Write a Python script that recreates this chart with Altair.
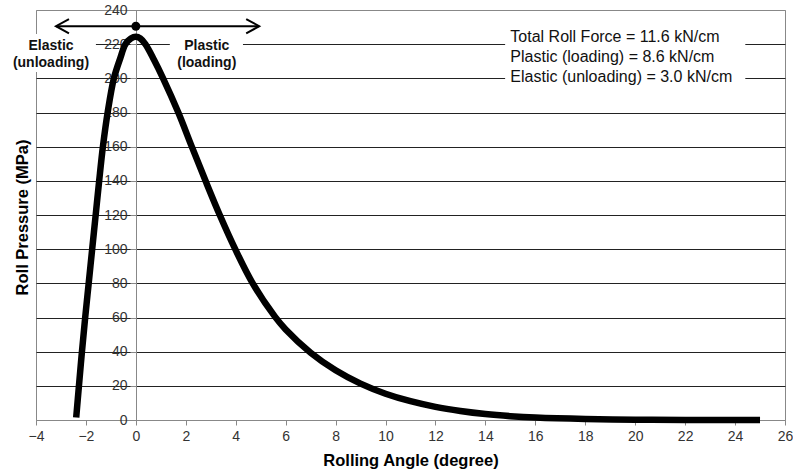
import altair as alt
import pandas as pd

# Roll pressure distribution along the contact arc
angle = [-2.39, -2.28, -2.16, -2.03, -1.89, -1.75, -1.61, -1.47, -1.32, -1.13,
         -0.88, -0.62, -0.42, -0.2, 0.0, 0.18, 0.38, 0.72, 1.09, 1.70,
         2.24, 2.79, 3.36, 3.98, 4.68, 5.57, 6.0, 7.0, 8.0, 9.0,
         10.0, 11.0, 12.0, 13.0, 14.0, 15.0, 16.0, 18.0, 20.0, 22.0, 25.0]
pressure = [1.5, 20, 40, 60, 80, 100, 120, 140, 160, 180,
            200, 212, 220, 223.3, 224.3, 223.3, 220, 211, 200, 180,
            160, 140, 120, 100, 80, 60.5, 53.0, 39.4, 29.1, 21.3,
            15.4, 11.0, 7.7, 5.3, 3.5, 2.25, 1.4, 0.55, 0.2, 0.07, 0.0]

x_ticks = list(range(-4, 27, 2))
y_ticks = list(range(0, 241, 20))

# Double arrow marking the neutral point, with its dot
arrow_left, arrow_right, arrow_level = -3.2, 4.94, 230.5
neutral_angle = 0.0

# Region labels above the curve
region_lines = ["Elastic", "(unloading)", "Plastic", "(loading)"]
region_x = [-3.4, -3.4, 2.84, 2.84]
region_y = [219.1, 208.8, 219.1, 208.8]

# Force summary
force_lines = ["Total Roll Force = 11.6 kN/cm",
               "Plastic (loading) = 8.6 kN/cm",
               "Elastic (unloading) = 3.0 kN/cm"]
force_x = [15.0, 15.0, 15.0]
force_y = [224.4, 212.7, 201.0]

# White backing boxes behind the annotations
box_x = [-5.13, 1.36, 14.79]
box_x2 = [-1.60, 4.29, 24.41]
box_y = [226.0, 226.0, 228.3]
box_y2 = [203.7, 203.7, 194.3]

FONT = "Liberation Sans"

curve = pd.DataFrame({"angle": angle, "pressure": pressure})
regions = pd.DataFrame({"angle": region_x, "pressure": region_y, "label": region_lines})
forces = pd.DataFrame({"angle": force_x, "pressure": force_y, "label": force_lines})
boxes = pd.DataFrame({"angle": box_x, "angle2": box_x2, "pressure": box_y, "pressure2": box_y2})
arrow = pd.DataFrame({"angle": [arrow_left], "angle2": [arrow_right], "pressure": [arrow_level]})
heads = pd.DataFrame({"angle": [arrow_left, arrow_right], "pressure": [arrow_level, arrow_level],
                      "side": ["left", "right"]})
dot = pd.DataFrame({"angle": [neutral_angle], "pressure": [arrow_level]})

x_scale = alt.Scale(domain=[-4, 26], nice=False, zero=False)
y_scale = alt.Scale(domain=[0, 240], nice=False, zero=False)

x_axis = alt.Axis(
    values=x_ticks, title="Rolling Angle (degree)", grid=False,
    domainColor="#888888", tickColor="#888888", tickSize=5,
    labelFont=FONT, labelFontSize=14, labelColor="#333333", labelPadding=4,
    labelFlush=False, labelOverlap=False,
    titleFont=FONT, titleFontSize=16.5, titleFontWeight="bold", titleColor="#000000",
    titlePadding=9,
)
y_axis = alt.Axis(
    values=y_ticks, title=None, offset=-100, grid=True,
    gridColor={"condition": {"test": "datum.value === 0 || datum.value === 240", "value": "#888888"},
               "value": "#222222"},
    gridWidth=1,
    domainColor="#888888", tickColor="#888888", tickSize=6,
    labelFont=FONT, labelFontSize=14, labelColor="#333333", labelPadding=3,
    labelFlush=False, labelOverlap=False,
)

X = alt.X("angle:Q", scale=x_scale, axis=x_axis)
Y = alt.Y("pressure:Q", scale=y_scale, axis=y_axis)

box_layer = alt.Chart(boxes).mark_rect(color="white").encode(
    x=X, x2="angle2:Q", y=Y, y2="pressure2:Q"
)

region_layer = alt.Chart(regions).mark_text(
    font=FONT, fontSize=14, fontWeight="bold", color="#111111", align="center", baseline="middle"
).encode(x=X, y=Y, text="label:N")

force_layer = alt.Chart(forces).mark_text(
    font=FONT, fontSize=16, color="#111111", align="left", baseline="middle"
).encode(x=X, y=Y, text="label:N")

arrow_layer = alt.Chart(arrow).mark_rule(color="black", strokeWidth=2).encode(
    x=X, x2="angle2:Q", y=Y
)

head_layer = alt.Chart(heads).mark_point(
    filled=False, color="black", strokeWidth=2, size=676, opacity=1
).encode(
    x=X, y=Y,
    shape=alt.Shape("side:N", scale=alt.Scale(
        domain=["left", "right"],
        range=["M1,-0.55L0,0L1,0.55", "M-1,-0.55L0,0L-1,0.55"]), legend=None),
)

dot_layer = alt.Chart(dot).mark_circle(color="black", size=80, opacity=1).encode(x=X, y=Y)

curve_layer = alt.Chart(curve).mark_line(
    color="black", strokeWidth=6.5, interpolate="catmull-rom", strokeCap="butt", strokeJoin="round"
).encode(x=X, y=Y)

y_title = alt.Chart(dot).mark_text(
    text="Roll Pressure (MPa)", font=FONT, fontSize=16.5, fontWeight="bold", color="#000000",
    angle=270, align="center", baseline="middle"
).encode(x=alt.value(-13), y=alt.value(207.5))

chart = alt.layer(
    box_layer, region_layer, force_layer, arrow_layer, head_layer, dot_layer, curve_layer, y_title
).properties(
    width=749, height=410,
    autosize=alt.AutoSizeParams(type="none"),
    padding={"left": 36, "top": 10, "right": 8, "bottom": 55},
    background="white",
).configure_view(
    stroke="#888888", strokeWidth=1
)

chart.save("out.html", embed_options={"renderer": "svg", "actions": False})
